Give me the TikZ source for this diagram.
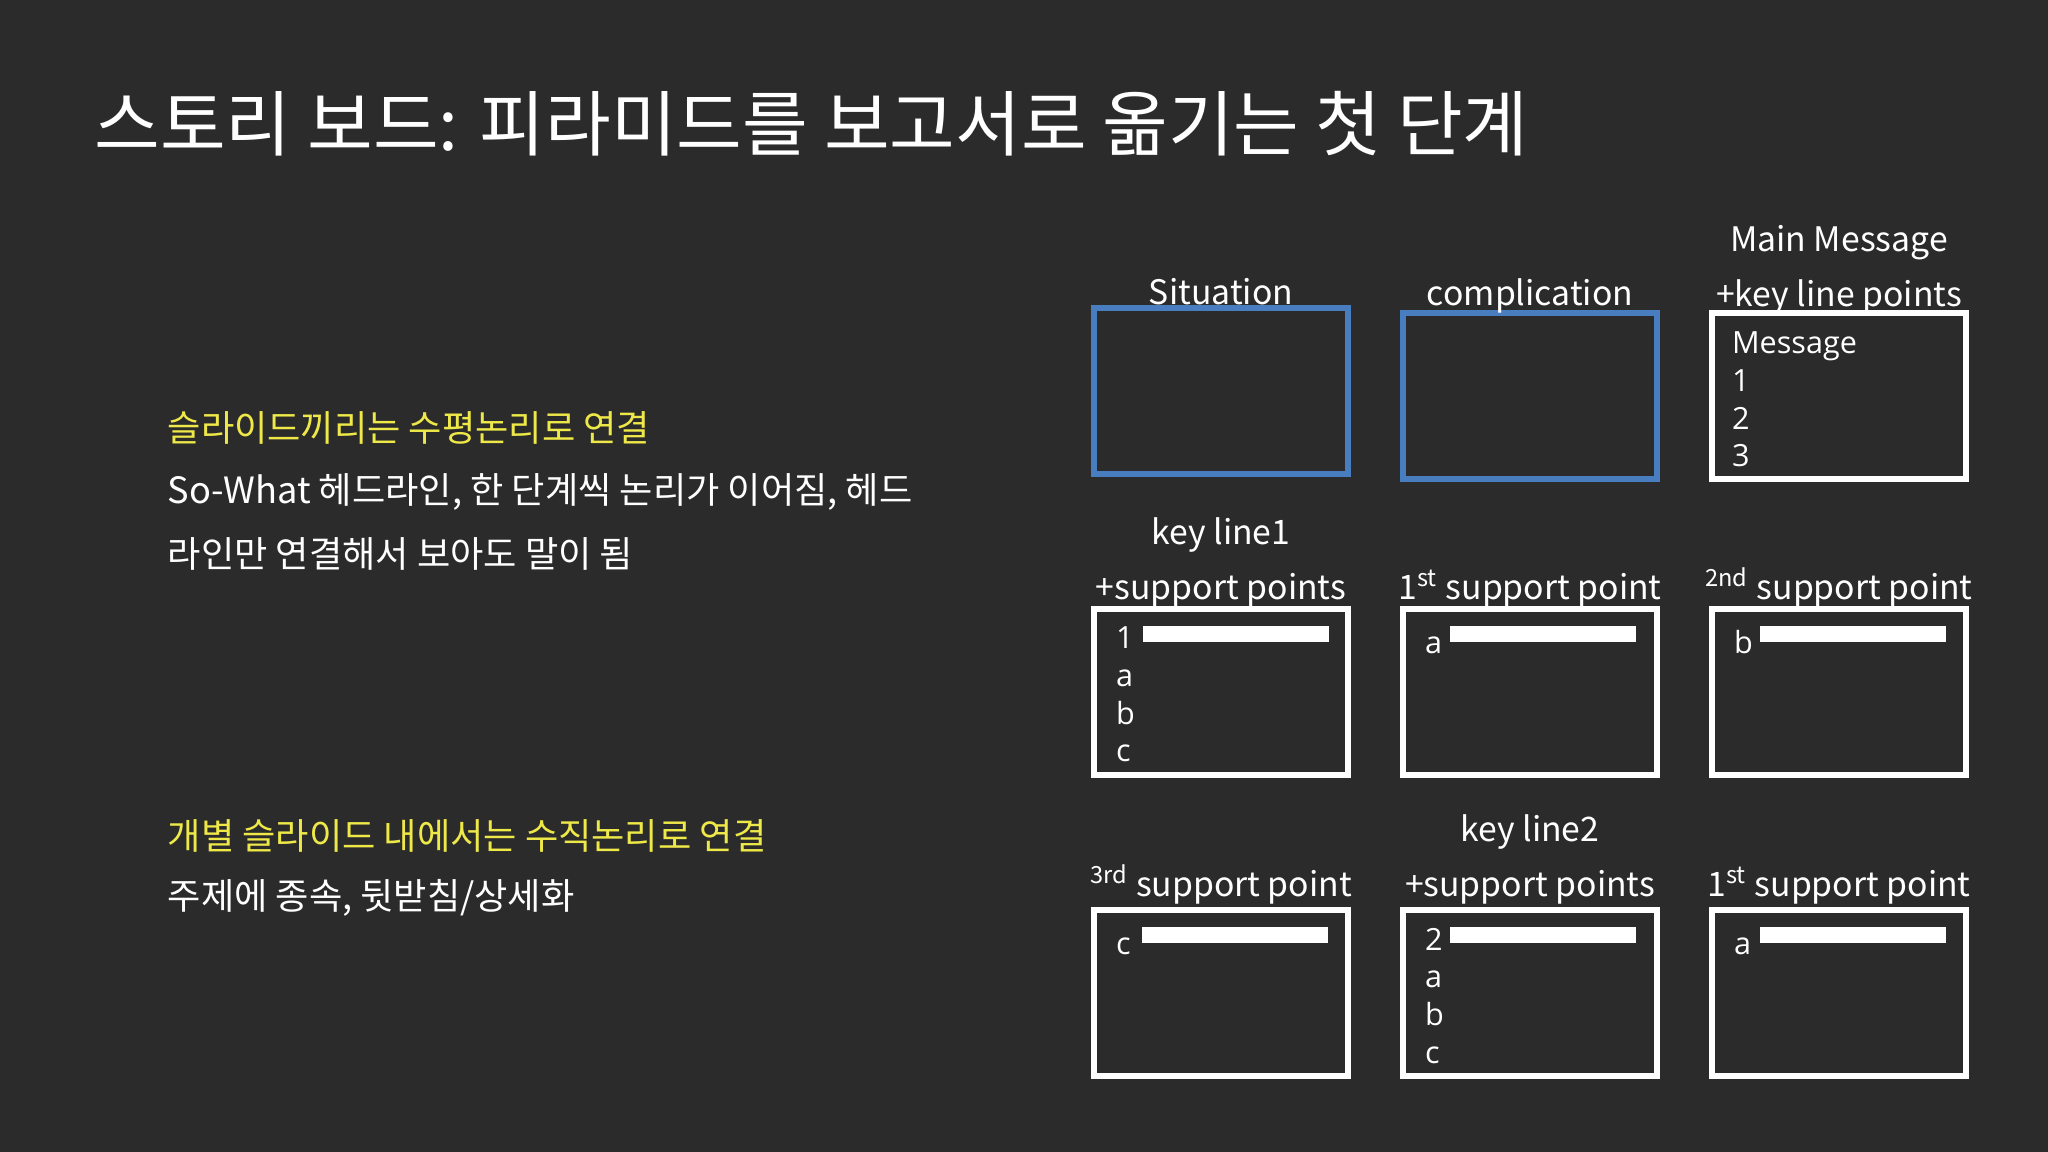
\documentclass[tikz,border=0pt]{standalone}
\usepackage{fontspec}
\setmainfont{Noto Sans CJK KR}
\newfontfamily\slidefont{Open Sans}
\usetikzlibrary{positioning,calc}

\definecolor{board}{RGB}{43,43,43}
\definecolor{chalkblue}{RGB}{72,125,192}
\definecolor{chalkyellow}{RGB}{238,232,72}

\begin{document}
\begin{tikzpicture}[node distance = 3.01cm and 3.09cm]

\tikzstyle{slide} = [rectangle, minimum width=2.54cm, minimum height=1.66cm, draw=white, line width=1.5pt, on grid]
\tikzstyle{blueslide} = [slide, draw=chalkblue, line width=1.8pt]
\tikzstyle{heading} = [text=white, font=\fontsize{9.6}{15.5}\selectfont, align=center, inner sep=0pt, anchor=base]
\tikzstyle{lines} = [text=white, font=\slidefont\fontsize{8.7}{10.7}\selectfont, align=left, inner sep=0pt, anchor=north west, execute at begin node=\strut]
\tikzstyle{bar} = [rectangle, fill=white, minimum width=1.86cm, minimum height=0.16cm, inner sep=0pt, anchor=north west]
\tikzstyle{note} = [text=white, font=\fontsize{10.3}{12}\selectfont, anchor=west, inner sep=0pt]

% board
\fill [board] (0,0) rectangle (20.48,-11.52);

%% -----------
%% -- TITLE --
%% -----------
\node (title) [text=white, font=\fontsize{20.3}{23}\selectfont, anchor=west, inner sep=0pt] at (0.94,-1.24) {스토리 보드: 피라미드를 보고서로 옮기는 첫 단계};

%% -----------
%% -- NOTES --
%% -----------
\node (horiz) [note, text=chalkyellow] at (1.67,-4.28) {슬라이드끼리는 수평논리로 연결};
\node (horiz1) [note] at (1.67,-4.92) {So-What 헤드라인, 한 단계씩 논리가 이어짐, 헤드};
\node (horiz2) [note] at (1.67,-5.54) {라인만 연결해서 보아도 말이 됨};

\node (vert) [note, text=chalkyellow] at (1.67,-8.36) {개별 슬라이드 내에서는 수직논리로 연결};
\node (vert1) [note] at (1.67,-8.98) {주제에 종속, 뒷받침/상세화};

%% ----------------
%% -- STORYBOARD --
%% ----------------

% row 1
\node (sit) [blueslide] at (12.21,-3.91) {};
\node (comp) [blueslide, right=of sit, yshift=-0.05cm] {};
\node (msg) [slide, right=of comp] {};

\node (sit_h) [heading] at ($(sit.north)+(0,0)$) {Situation};
\node (comp_h) [heading] at ($(comp.north)+(0,0.04)$) {complication};
\node (msg_h) [heading] at ($(msg.north)+(0,0.04)$) {Main Message\\+key line points};

\node (msg_t) [lines] at ($(msg.north west)+(0.22,-0.21)$) {Message\\1\\2\\3};

% row 2
\node (kl1) [slide, below=of sit] {};
\node (sp1) [slide, right=of kl1] {};
\node (sp2) [slide, right=of sp1] {};

\node (kl1_h) [heading] at ($(kl1.north)+(0,0.07)$) {key line1\\+support points};
\node (sp1_h) [heading] at ($(sp1.north)+(0,0.07)$) {1\textsuperscript{st} support point};
\node (sp2_h) [heading] at ($(sp2.north)+(0,0.07)$) {\textsuperscript{2nd} support point};

\node (kl1_t) [lines] at ($(kl1.north west)+(0.24,-0.2)$) {1\\a\\b\\c};
\node (kl1_bar) [bar] at ($(kl1.north west)+(0.51,-0.19)$) {};
\node (sp1_t) [lines] at ($(sp1.north west)+(0.24,-0.2)$) {a};
\node (sp1_bar) [bar] at ($(sp1.north west)+(0.49,-0.19)$) {};
\node (sp2_t) [lines] at ($(sp2.north west)+(0.24,-0.2)$) {b};
\node (sp2_bar) [bar] at ($(sp2.north west)+(0.5,-0.19)$) {};

% row 3
\node (sp3) [slide, below=of kl1] {};
\node (kl2) [slide, right=of sp3] {};
\node (sp4) [slide, right=of kl2] {};

\node (sp3_h) [heading] at ($(sp3.north)+(0,0.11)$) {\textsuperscript{3rd} support point};
\node (kl2_h) [heading] at ($(kl2.north)+(0,0.11)$) {key line2\\+support points};
\node (sp4_h) [heading] at ($(sp4.north)+(0,0.11)$) {1\textsuperscript{st} support point};

\node (sp3_t) [lines] at ($(sp3.north west)+(0.24,-0.2)$) {c};
\node (sp3_bar) [bar] at ($(sp3.north west)+(0.5,-0.19)$) {};
\node (kl2_t) [lines] at ($(kl2.north west)+(0.24,-0.2)$) {2\\a\\b\\c};
\node (kl2_bar) [bar] at ($(kl2.north west)+(0.49,-0.19)$) {};
\node (sp4_t) [lines] at ($(sp4.north west)+(0.24,-0.2)$) {a};
\node (sp4_bar) [bar] at ($(sp4.north west)+(0.5,-0.19)$) {};

\end{tikzpicture}
\end{document}
